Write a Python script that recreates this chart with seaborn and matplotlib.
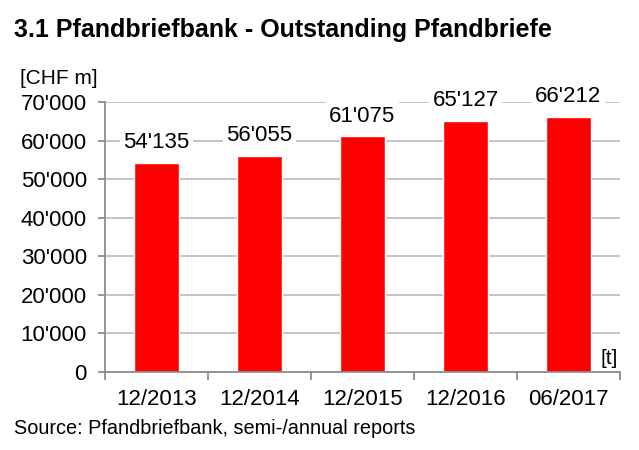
import matplotlib
matplotlib.use("Agg")
import matplotlib.pyplot as plt
import seaborn as sns
import pandas as pd
from matplotlib.ticker import FuncFormatter, FixedLocator

# values
periods = ["12/2013", "12/2014", "12/2015", "12/2016", "06/2017"]
outstanding = [54135, 56055, 61075, 65127, 66212]

df = pd.DataFrame({"period": periods, "outstanding": outstanding})

sns.set_theme(style="white")
plt.rcParams["font.family"] = ["Liberation Sans", "DejaVu Sans"]
plt.rcParams["text.color"] = "black"

fig = plt.figure(figsize=(6.39, 4.5), dpi=100)
ax = fig.add_axes([105 / 639, 1 - 372 / 450, 515 / 639, 270 / 450])

sns.barplot(data=df, x="period", y="outstanding", color="#ff0000",
            saturation=1, width=0.43, ax=ax, zorder=3)

def swiss(v, pos=None):
    return f"{int(round(v)):,}".replace(",", "'")

ax.set_ylim(0, 70000)
ax.set_xlim(-0.5, len(periods) - 0.5)
ax.set_yticks(range(0, 70001, 10000))
ax.yaxis.set_major_formatter(FuncFormatter(swiss))
ax.grid(axis="y", color="#bfbfbf", lw=1.3, zorder=0)
ax.set_axisbelow(True)

for s in ["top", "right"]:
    ax.spines[s].set_visible(False)
for s in ["left", "bottom"]:
    ax.spines[s].set_color("#8c8c8c")
    ax.spines[s].set_linewidth(1.3)
    ax.spines[s].set_zorder(4)

ax.tick_params(axis="y", labelsize=16, length=5, color="#8c8c8c", width=1.3,
               left=True, pad=8, labelcolor="black")
ax.tick_params(axis="x", which="major", labelsize=16, length=0, pad=12,
               labelcolor="black")
ax.xaxis.set_minor_locator(FixedLocator([i - 0.5 for i in range(len(periods) + 1)]))
ax.tick_params(axis="x", which="minor", length=6, color="#8c8c8c", width=1.3,
               bottom=True)
ax.set_xlabel("")
ax.set_ylabel("")

for i, v in enumerate(outstanding):
    ax.annotate(swiss(v), (i, v), xytext=(0, 7), textcoords="offset points",
                ha="center", va="bottom", fontsize=16, color="black",
                bbox=dict(boxstyle="square,pad=0.15", fc="white", ec="none"),
                zorder=5)

fig.text(14 / 639, 1 - 30 / 450, "3.1 Pfandbriefbank - Outstanding Pfandbriefe",
         fontsize=18, fontweight="bold", va="center", ha="left", color="black")
fig.text(20 / 639, 1 - 79 / 450, "[CHF m]", fontsize=15, va="center", ha="left",
         color="black")
ax.text(0.995, 0.015, "[t]", transform=ax.transAxes, fontsize=15,
        ha="right", va="bottom", color="black")
fig.text(14 / 639, 1 - 428 / 450, "Source: Pfandbriefbank, semi-/annual reports",
         fontsize=14.3, va="center", ha="left", color="black")

fig.savefig("out.png", dpi=100)
